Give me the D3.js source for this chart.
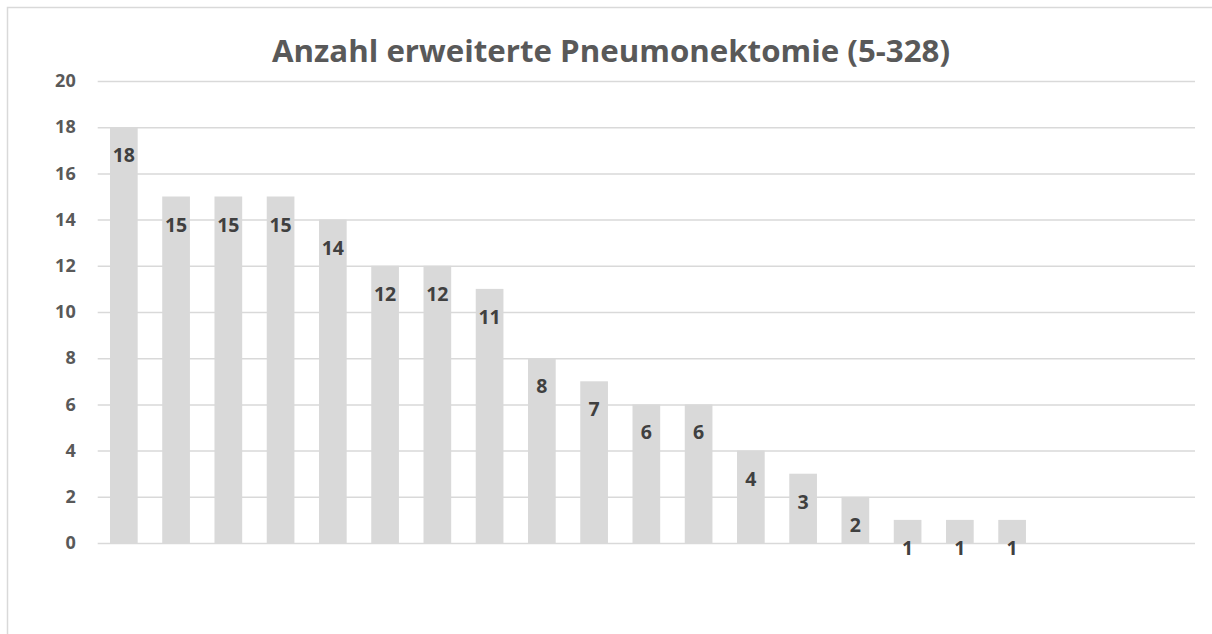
<!DOCTYPE html>
<html><head><meta charset="utf-8">
<script src="https://cdn.jsdelivr.net/npm/d3@7"></script>
<style>body{margin:0;background:#fff}svg{display:block}</style>
</head><body>
<svg id="c" width="1212" height="634"></svg>
<script>
const title = "Anzahl erweiterte Pneumonektomie (5-328)";
const categories = ["1","2","3","4","5","6","7","8","9","10","11","12","13","14","15","16","17","18","19","20","21"];
const values = [18,15,15,15,14,12,12,11,8,7,6,6,4,3,2,1,1,1,null,null,null];
const yTicks = [0,2,4,6,8,10,12,14,16,18,20];

(function(){
const svg = d3.select("#c");
const font = "'Open Sans', sans-serif";
svg.append("rect").attr("x",7.5).attr("y",7.5).attr("width",1230).attr("height",660)
  .attr("fill","#fff").attr("stroke","#d9d9d9").attr("stroke-width",1.5);

const pL=97.7, pR=1195, pT=81, pB=543;
const x = d3.scaleBand().domain(categories).range([pL,pR]).paddingInner(0.47).paddingOuter(0.235);
const y = d3.scaleLinear().domain([0,20]).range([pB,pT]);

const g = svg.append("g");
const yAxis = d3.axisLeft(y).tickValues(yTicks).tickSize(-(pR-pL)).tickPadding(22);
const ya = g.append("g").attr("transform",`translate(${pL},0)`).call(yAxis);
ya.select(".domain").remove();
ya.selectAll(".tick line").attr("stroke","#d9d9d9").attr("stroke-width",1.5);
ya.selectAll(".tick text").attr("fill","#595959").attr("font-family",font)
  .attr("font-weight","bold").attr("font-size","18px");

const data = categories.map((c,i)=>({c, v: values[i]})).filter(d=>d.v!=null);
g.selectAll("rect.bar").data(data).join("rect").attr("class","bar")
  .attr("x",d=>x(d.c)).attr("width",x.bandwidth())
  .attr("y",d=>y(d.v)).attr("height",d=>y(0)-y(d.v)).attr("fill","#d9d9d9");

g.selectAll("text.lbl").data(data).join("text").attr("class","lbl")
  .attr("x",d=>x(d.c)+x.bandwidth()/2).attr("y",d=>y(d.v)+35)
  .attr("text-anchor","middle").attr("fill","#404040").attr("font-family",font)
  .attr("font-weight","bold").attr("font-size","19.5px").text(d=>d.v);

svg.append("text").attr("x",611).attr("y",62).attr("text-anchor","middle")
  .attr("fill","#595959").attr("font-family",font).attr("font-weight","bold")
  .attr("font-size","31px").attr("textLength",678).attr("lengthAdjust","spacingAndGlyphs")
  .text(title);
})();
</script>
</body></html>
